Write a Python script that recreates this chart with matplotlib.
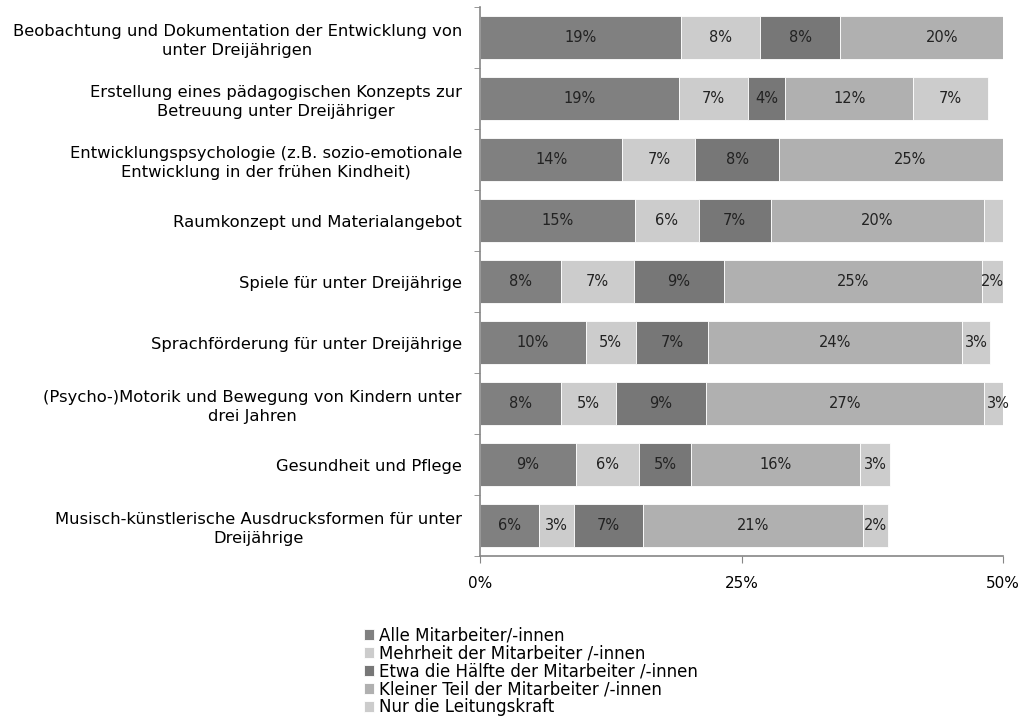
import matplotlib
matplotlib.use('Agg')
import matplotlib.pyplot as plt
import numpy as np

plt.rcParams['font.family'] = ['DejaVu Sans']

# Topics (top to bottom)
categories = [
    'Beobachtung und Dokumentation der Entwicklung von\nunter Dreijährigen',
    'Erstellung eines pädagogischen Konzepts zur\nBetreuung unter Dreijähriger',
    'Entwicklungspsychologie (z.B. sozio-emotionale\nEntwicklung in der frühen Kindheit)',
    'Raumkonzept und Materialangebot',
    'Spiele für unter Dreijährige',
    'Sprachförderung für unter Dreijährige',
    '(Psycho-)Motorik und Bewegung von Kindern unter\ndrei Jahren',
    'Gesundheit und Pflege',
    'Musisch-künstlerische Ausdrucksformen für unter\nDreijährige',
]

series_names = [
    'Alle Mitarbeiter/-innen',
    'Mehrheit der Mitarbeiter /-innen',
    'Etwa die Hälfte der Mitarbeiter /-innen',
    'Kleiner Teil der Mitarbeiter /-innen',
    'Nur die Leitungskraft',
]

# values in percent
alle = [19.2, 19.0, 13.6, 14.8, 7.7, 10.1, 7.7, 9.2, 5.6]
mehrheit = [7.6, 6.6, 7.0, 6.1, 7.0, 4.8, 5.3, 6.0, 3.4]
haelfte = [7.6, 3.6, 8.0, 6.9, 8.6, 6.9, 8.6, 5.0, 6.6]
kleiner = [19.6, 12.2, 25.0, 20.4, 24.7, 24.3, 26.6, 16.1, 21.0]
leitung = [3.0, 7.2, 3.0, 4.0, 2.0, 2.7, 2.8, 2.9, 2.4]

colors = ['#808080', '#cccccc', '#777777', '#b0b0b0', '#cccccc']
xmax = 50

fig = plt.figure(figsize=(10.18, 7.25), dpi=100)
ax = fig.add_axes([0.4715, 0.233, 0.5138, 0.757])

y = np.arange(len(categories))
left = np.zeros(len(categories))
for name, vals, col in zip(series_names, [alle, mehrheit, haelfte, kleiner, leitung], colors):
    vals = np.array(vals)
    ax.barh(y, vals, left=left, height=0.7, color=col, edgecolor='white', linewidth=0.6, label=name)
    for yi, l, v in zip(y, left, vals):
        cx = l + v / 2
        if cx < xmax:
            ax.text(cx, yi, f'{v:.0f}%', ha='center', va='center', fontsize=10.5, color='#222222')
    left += vals

ax.set_xlim(0, xmax)
ax.set_ylim(len(categories) - 0.5, -0.5)

ax.set_xticks([0, 25, 50])
ax.set_xticklabels(['0%', '25%', '50%'], fontsize=11)
ax.tick_params(axis='x', length=5, color='#868686', pad=9)

ax.set_yticks(y)
ax.set_yticklabels(categories, fontsize=11.8, linespacing=1.35)
ax.set_yticks(np.arange(-0.5, len(categories)), minor=True)
ax.tick_params(axis='y', which='major', length=0, pad=13)
ax.tick_params(axis='y', which='minor', length=4, color='#868686')
for lbl in ax.get_yticklabels():
    lbl.set_multialignment('center')

for s in ['top', 'right']:
    ax.spines[s].set_visible(False)
for s in ['left', 'bottom']:
    ax.spines[s].set_color('#868686')
    ax.spines[s].set_linewidth(1.2)

handles, labels = ax.get_legend_handles_labels()
fig.legend(handles, labels, loc='upper left', bbox_to_anchor=(0.358, 0.136),
           frameon=False, fontsize=12, handlelength=0.6, handleheight=0.6,
           handletextpad=0.25, labelspacing=0.0, borderpad=0, borderaxespad=0)

fig.savefig('out.png', dpi=100)
